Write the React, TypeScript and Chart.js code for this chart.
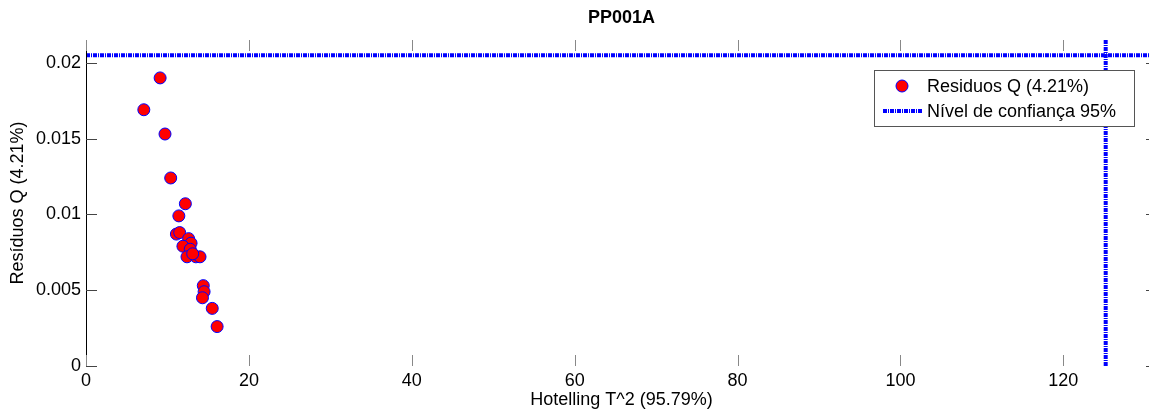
import React, { useEffect, useRef } from "react";
import { Chart, registerables } from "chart.js";

Chart.register(...registerables);

// ---- Data ----
const titleText = "PP001A";
const xAxisTitle = "Hotelling T^2 (95.79%)";
const yAxisTitle = "Resíduos Q (4.21%)";
const pointsLabel = "Residuos Q (4.21%)";
const limitLabel = "Nível de confiança 95%";

const t2Values = [9.1, 7.1, 9.7, 10.4, 12.2, 11.4, 11.1, 11.5, 12.6, 12.9, 11.9, 12.8, 12.4, 13.5, 14.0, 13.1, 14.4, 14.5, 14.3, 15.5, 16.1];
const qValues = [0.0190, 0.0169, 0.0153, 0.0124, 0.0107, 0.0099, 0.0087, 0.0088, 0.0084, 0.0081, 0.0079, 0.0077, 0.0072, 0.0072, 0.0072, 0.0074, 0.0053, 0.0049, 0.0045, 0.0038, 0.0026];

const confidenceT2 = 125.2;
const confidenceQ = 0.0205;

const xMin = 0;
const xMax = 131.5;
const yMin = 0;
const yMax = 0.0215;

const xTickValues = [0, 20, 40, 60, 80, 100, 120];
const xTickLabels = ["0", "20", "40", "60", "80", "100", "120"];
const yTickValues = [0, 0.005, 0.01, 0.015, 0.02];
const yTickLabels = ["0", "0.005", "0.01", "0.015", "0.02"];

const FONT = '"Liberation Sans", Arial, Helvetica, sans-serif';
const BLUE = "#0000ff";
const DASH = [4, 1, 1, 1];

const decorPlugin = {
  id: "matlabDecor",
  afterDraw(chart: any) {
    const { ctx, chartArea } = chart;
    const { left, right, top, bottom } = chartArea;
    const xs = chart.scales.x;
    const ys = chart.scales.y;
    ctx.save();

    // Title
    ctx.font = `bold 18px ${FONT}`;
    ctx.fillStyle = "#000";
    ctx.textAlign = "center";
    ctx.textBaseline = "middle";
    ctx.fillText(titleText, (left + right) / 2, 18.5);

    // Left axis line
    ctx.strokeStyle = "#000";
    ctx.lineWidth = 1;
    ctx.beginPath();
    ctx.moveTo(Math.round(left) + 0.5, top);
    ctx.lineTo(Math.round(left) + 0.5, bottom);
    ctx.stroke();

    // Inward ticks
    const tl = 11;
    ctx.strokeStyle = "#444";
    yTickValues.forEach((v) => {
      const py = Math.round(ys.getPixelForValue(v)) + 0.5;
      ctx.beginPath();
      ctx.moveTo(left, py);
      ctx.lineTo(left + tl, py);
      ctx.moveTo(right, py);
      ctx.lineTo(right - tl, py);
      ctx.stroke();
    });
    ctx.strokeStyle = "#888";
    xTickValues.forEach((v) => {
      const px = Math.round(xs.getPixelForValue(v)) + 0.5;
      ctx.beginPath();
      ctx.moveTo(px, bottom);
      ctx.lineTo(px, bottom - tl);
      ctx.moveTo(px, top);
      ctx.lineTo(px, top + tl);
      ctx.stroke();
    });

    // Legend
    const boxRight = right - 23;
    const boxW = 260;
    const boxLeft = boxRight - boxW;
    const boxTop = top + 30;
    const boxH = 56;
    ctx.fillStyle = "#fff";
    ctx.fillRect(boxLeft, boxTop, boxW, boxH);
    ctx.strokeStyle = "#555";
    ctx.lineWidth = 1;
    ctx.strokeRect(Math.round(boxLeft) + 0.5, Math.round(boxTop) + 0.5, boxW, boxH);

    const row1 = boxTop + 16;
    const row2 = boxTop + 41;
    // marker
    ctx.beginPath();
    ctx.arc(boxLeft + 28, row1, 6, 0, Math.PI * 2);
    ctx.fillStyle = "#ff0000";
    ctx.fill();
    ctx.strokeStyle = BLUE;
    ctx.lineWidth = 1;
    ctx.stroke();
    // line sample
    ctx.save();
    ctx.setLineDash(DASH);
    ctx.strokeStyle = BLUE;
    ctx.lineWidth = 4;
    ctx.beginPath();
    ctx.moveTo(boxLeft + 9, row2);
    ctx.lineTo(boxLeft + 49, row2);
    ctx.stroke();
    ctx.restore();

    ctx.font = `18px ${FONT}`;
    ctx.fillStyle = "#000";
    ctx.textAlign = "left";
    ctx.textBaseline = "middle";
    ctx.fillText(pointsLabel, boxLeft + 53, row1 + 1);
    ctx.fillText(limitLabel, boxLeft + 53, row2 + 1);

    ctx.restore();
  },
};

export default function App() {
  const canvasRef = useRef<HTMLCanvasElement | null>(null);

  useEffect(() => {
    const canvas = canvasRef.current;
    if (!canvas) return;
    const points = t2Values.map((x, i) => ({ x, y: qValues[i] }));
    const chart = new Chart(canvas, {
      type: "scatter",
      data: {
        datasets: [
          {
            label: limitLabel,
            data: [
              { x: xMin, y: confidenceQ },
              { x: xMax, y: confidenceQ },
            ],
            showLine: true,
            pointRadius: 0,
            borderColor: BLUE,
            borderWidth: 4,
            borderDash: DASH,
            backgroundColor: BLUE,
          },
          {
            label: "",
            data: [
              { x: confidenceT2, y: yMin },
              { x: confidenceT2, y: yMax },
            ],
            showLine: true,
            pointRadius: 0,
            borderColor: BLUE,
            borderWidth: 4,
            borderDash: DASH,
            backgroundColor: BLUE,
          },
          {
            label: pointsLabel,
            data: points,
            pointRadius: 6,
            pointBorderWidth: 1,
            backgroundColor: "#ff0000",
            borderColor: BLUE,
          },
        ],
      },
      options: {
        responsive: true,
        maintainAspectRatio: false,
        animation: false,
        devicePixelRatio: 1,
        layout: { padding: { top: 40, left: 0, right: 0, bottom: 0 } },
        plugins: {
          legend: { display: false },
          tooltip: { enabled: false },
          title: { display: false },
        },
        scales: {
          x: {
            type: "linear",
            min: xMin,
            max: xMax,
            grid: { display: false, drawTicks: false },
            border: { display: false },
            afterBuildTicks: (scale: any) => {
              scale.ticks = xTickValues.map((v) => ({ value: v }));
            },
            afterFit: (scale: any) => {
              scale.height = 49;
              scale.paddingLeft = 0;
              scale.paddingRight = 0;
            },
            ticks: {
              padding: 4,
              color: "#000",
              font: { family: FONT, size: 18 },
              maxRotation: 0,
              autoSkip: false,
              callback: (v: any) => {
                const i = xTickValues.indexOf(Number(v));
                return i >= 0 ? xTickLabels[i] : "";
              },
            },
            title: {
              display: true,
              text: xAxisTitle,
              color: "#000",
              font: { family: FONT, size: 18 },
              padding: { top: 0, bottom: 4 },
            },
          },
          y: {
            type: "linear",
            min: yMin,
            max: yMax,
            grid: { display: false, drawTicks: false },
            border: { display: false },
            afterBuildTicks: (scale: any) => {
              scale.ticks = yTickValues.map((v) => ({ value: v }));
            },
            afterFit: (scale: any) => {
              scale.width = 86;
            },
            ticks: {
              padding: 5,
              color: "#000",
              font: { family: FONT, size: 18 },
              autoSkip: false,
              callback: (v: any) => {
                const i = yTickValues.findIndex((t) => Math.abs(t - Number(v)) < 1e-9);
                return i >= 0 ? yTickLabels[i] : "";
              },
            },
            title: {
              display: true,
              text: yAxisTitle,
              color: "#000",
              font: { family: FONT, size: 18 },
              padding: { top: 7, bottom: 0 },
            },
          },
        },
      },
      plugins: [decorPlugin],
    } as any);
    return () => chart.destroy();
  }, []);

  return (
    <div
      style={{
        position: "fixed",
        left: 0,
        top: 0,
        width: 1149,
        height: 415,
        overflow: "hidden",
        background: "#fff",
      }}
    >
      <div style={{ position: "relative", width: 1164, height: 415 }}>
        <canvas ref={canvasRef} />
      </div>
    </div>
  );
}
